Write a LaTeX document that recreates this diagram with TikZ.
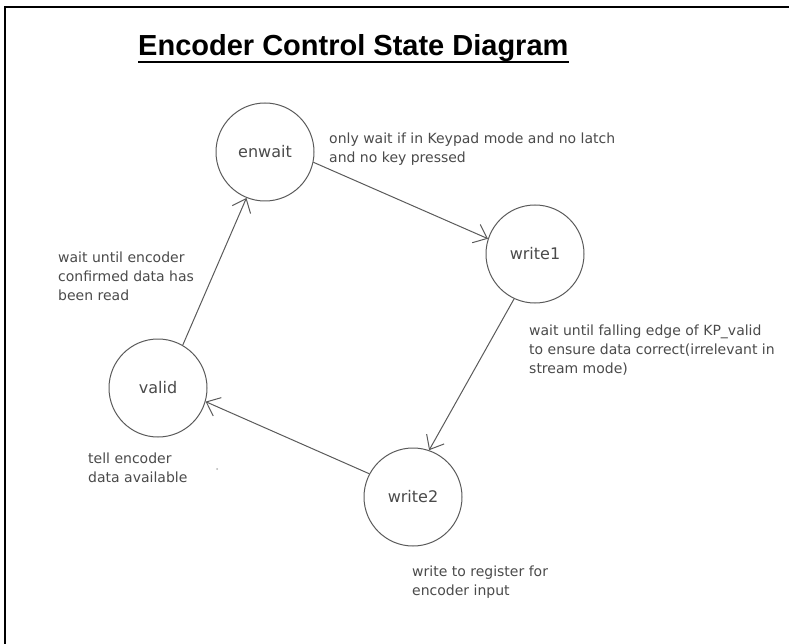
\documentclass[tikz,border=0pt]{standalone}
\usepackage{fontspec}
\setmainfont{DejaVu Sans}
\newfontfamily\titlefont{Liberation Sans}
\usetikzlibrary{arrows.meta}
\definecolor{ink}{HTML}{4A4A4A}
\definecolor{edgegray}{HTML}{5A5A5A}
\tikzset{
  state/.style={circle, draw=edgegray, line width=1pt, minimum size=98pt,
    inner sep=0pt, font=\fontsize{16}{19}\selectfont, text=ink},
  note/.style={anchor=north west, inner sep=0pt, align=left,
    font=\fontsize{14}{19}\selectfont, text=ink},
  trans/.style={draw=edgegray, line width=1pt,
    -{Straight Barb[length=12pt,width=20pt]}},
}
\begin{document}
\begin{tikzpicture}[x=1pt,y=-1pt]
\useasboundingbox (0,0) rectangle (789,644);
% page frame (top and left edges)
\draw[line width=2pt] (5,644) -- (5,7) -- (789,7);

% title
\node[anchor=base west, inner sep=0pt,
      font=\titlefont\bfseries\fontsize{29}{34}\selectfont] (title) at (138,56)
      {Encoder Control State Diagram};
\draw[line width=2.5pt] ([yshift=-6pt]title.base west) -- ([yshift=-6pt]title.base east);

% states
\node[state] (enwait) at (265,152) {enwait};
\node[state] (write1) at (535,254) {write1};
\node[state] (write2) at (413,497) {write2};
\node[state] (valid)  at (158,388) {valid};

% transitions
\draw[trans] (enwait.-12) -- (write1.162);
\draw[trans] (write1.245) -- (write2.71);
\draw[trans] (write2.152) -- (valid.-16);
\draw[trans] (valid.60) -- (enwait.248);

% notes
\node[note] (n1) at (329,133) {only wait if in Keypad mode and no latch\\and no key pressed};
\node[note] (n2) at (529,325) {wait until falling edge of KP\_valid\\to ensure data correct(irrelevant in\\stream mode)};
\node[note] (n3) at (412,566) {write to register for\\encoder input};
\node[note] (n4) at (88,453) {tell encoder\\data available};
\node[note] (n5) at (58,252) {wait until encoder\\confirmed data has\\been read};

% small speck
\fill[gray!60] (217,469) circle (1pt);
\end{tikzpicture}
\end{document}
